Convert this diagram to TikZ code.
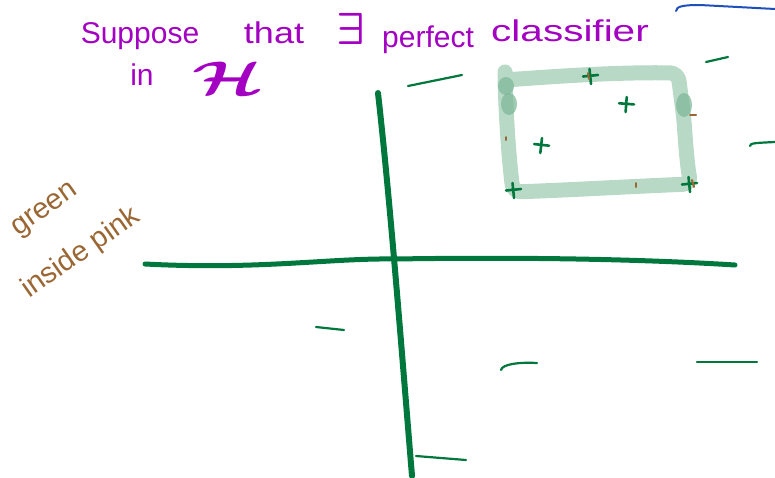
\documentclass[tikz,border=0pt]{standalone}
\usepackage{amsmath}
\usepackage{fontspec}
\setmainfont{Liberation Sans}
\definecolor{hpurple}{HTML}{A300C2}
\definecolor{hgreen}{HTML}{00773C}
\definecolor{hlight}{HTML}{B7D9C6}
\definecolor{hblob}{HTML}{7FB89A}
\definecolor{hbrown}{HTML}{9A6633}
\definecolor{hblue}{HTML}{1E4FBA}
\tikzset{
  purpletext/.style={text=hpurple, font=\fontsize{30}{34}\selectfont, inner sep=0pt},
  browntext/.style={text=hbrown, font=\fontsize{29}{33}\selectfont, inner sep=0pt, rotate=35},
  axisline/.style={draw=hgreen, line width=5pt, line cap=round},
  negmark/.style={draw=hgreen, line width=2.2pt, line cap=round},
  posmark/.style={draw=hgreen, line width=2.6pt, line cap=round},
  boxline/.style={draw=hlight, line width=15pt, line cap=round, line join=round, rounded corners=8pt},
  blobfill/.style={fill=hblob, opacity=0.75},
  brownmark/.style={draw=hbrown, line width=2pt, line cap=round},
  plusmark/.pic={\draw[posmark] (-7,0.5) -- (8,-1) (-0.5,-7) -- (1,8);}
}
\begin{document}
\begin{tikzpicture}[x=1pt,y=-1pt]
\useasboundingbox (0,0) rectangle (775,477);
% title text
\node[purpletext] (w1) at (140,36) {Suppose};
\node[purpletext, xscale=1.2] (w2) at (274,33) {that};
\node[purpletext] (w3) at (351,29) {\scalebox{1.8}{\(\boldsymbol{\exists}\)}};
\node[purpletext] (w4) at (428,40) {perfect};
\node[purpletext, xscale=1.35] (w5) at (570,31) {classifier};
\node[purpletext] (w6) at (142,75) {in};
\node[purpletext] (w7) at (228,78) {\scalebox{2.9}[1.9]{\(\boldsymbol{\mathcal{H}}\)}};
% brown note
\node[browntext] (g1) at (46,211) {green};
\node[browntext] (g2) at (81,253) {inside pink};
% blue stroke
\draw[hblue, line width=2pt, line cap=round] (676,11) .. controls (676,6) and (685,5) .. (700,5) -- (775,9);
% pale rectangle (classifier region)
\draw[boxline] (505,80) .. controls (560,76) and (620,72) .. (678,73)
  -- (684,120) .. controls (686,150) and (688,170) .. (691,184)
  .. controls (640,186) and (570,190) .. (513,192)
  .. controls (508,150) and (506,110) .. cycle;
\fill[blobfill] (506,86) ellipse (8 and 9);
\fill[blobfill] (509,104) ellipse (8 and 11);
\fill[blobfill] (684,105) ellipse (8 and 12);
% axes
\draw[axisline] (145,264) .. controls (260,270) and (330,258) .. (395,259)
  .. controls (520,257) and (640,259) .. (735,265);
\draw[axisline, line width=6pt] (378,93) .. controls (390,200) and (400,330) .. (412,476);
% negatives
\draw[negmark] (408,86) -- (462,75);
\draw[negmark] (706,62) -- (728,57);
\draw[negmark] (750,146) .. controls (750,143) and (755,143) .. (775,142);
\draw[negmark] (316,327) -- (344,330);
\draw[negmark] (501,370) .. controls (502,364) and (520,362) .. (537,363);
\draw[negmark] (697,362) -- (757,362);
\draw[negmark] (416,456) -- (466,460);
% positives
\pic at (590,76) {plusmark};
\pic[rotate=-10] at (626,104) {plusmark};
\pic[rotate=-12] at (541,145) {plusmark};
\pic at (513,190) {plusmark};
\pic at (689,184) {plusmark};
% brown specks
\draw[brownmark] (588,73) -- (589,79);
\draw[brownmark] (690,115) -- (696,115);
\draw[brownmark] (506,137) -- (506,140);
\draw[brownmark] (636,183) -- (636,187);
\draw[brownmark] (692,180) -- (694,187);
\end{tikzpicture}
\end{document}
